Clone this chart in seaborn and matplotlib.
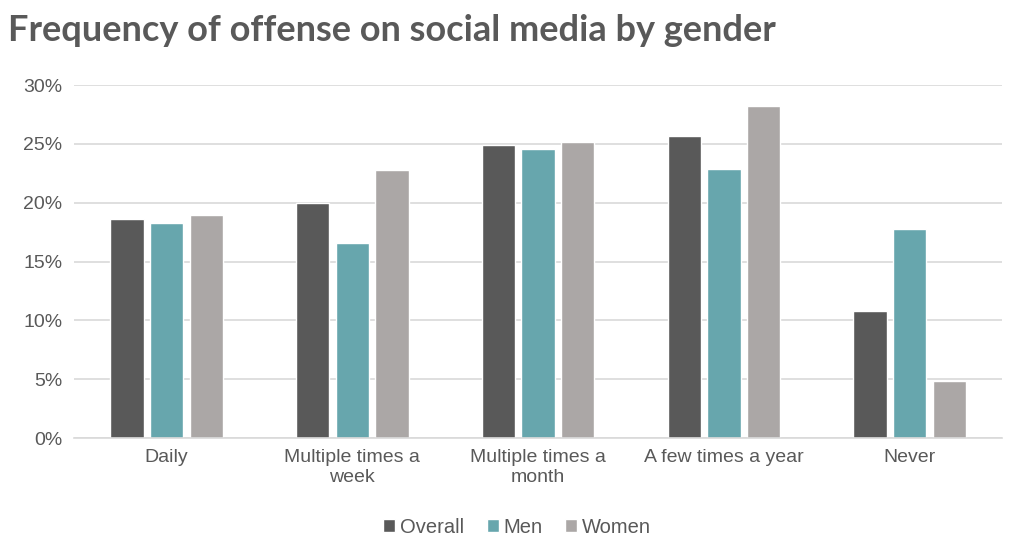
import matplotlib
matplotlib.use("Agg")
from matplotlib import pyplot as plt
from matplotlib.ticker import PercentFormatter
import pandas as pd
import seaborn as sns

categories = ["Daily", "Multiple times a\nweek", "Multiple times a\nmonth",
              "A few times a year", "Never"]
overall = [18.6, 19.95, 24.9, 25.7, 10.8]
men = [18.3, 16.6, 24.6, 22.85, 17.75]
women = [18.95, 22.8, 25.2, 28.2, 4.85]
groups = ["Overall", "Men", "Women"]
colors = ["#595959", "#67A6AD", "#ABA7A6"]

df = pd.DataFrame({
    "Frequency": categories * 3,
    "Group": [g for g in groups for _ in categories],
    "Value": overall + men + women,
})

sns.set_style("white")
plt.rcParams["font.family"] = ["Liberation Sans", "DejaVu Sans"]

fig = plt.figure(figsize=(10.24, 5.56), dpi=100)
ax = fig.add_axes([0.072, 0.212, 0.907, 0.635])

sns.barplot(data=df, x="Frequency", y="Value", hue="Group", order=categories,
            hue_order=groups, palette=colors, width=0.64, gap=0.16,
            saturation=1, ax=ax)

ax.set_ylim(0, 30)
ax.set_yticks(range(0, 31, 5))
ax.yaxis.set_major_formatter(PercentFormatter(decimals=0))
ax.yaxis.grid(True, color="#D9D9D9", linewidth=1.2)
ax.set_axisbelow(True)
for side in ["top", "right", "left"]:
    ax.spines[side].set_visible(False)
ax.spines["bottom"].set_color("#D9D9D9")
ax.spines["bottom"].set_linewidth(1.2)
ax.tick_params(axis="both", length=0, labelsize=14, colors="#595959", pad=8)
ax.set_xlabel("")
ax.set_ylabel("")

handles, labels = ax.get_legend_handles_labels()
ax.get_legend().remove()
fig.legend(handles, labels, loc="center", bbox_to_anchor=(0.505, 0.052),
           ncol=3, frameon=False, fontsize=14.5, handlelength=0.6,
           handleheight=0.6, handletextpad=0.25, columnspacing=1.1,
           labelcolor="#595959")

fig.text(0.008, 0.945, "Frequency of offense on social media by gender",
         fontsize=26, fontweight="bold", color="#595959", family="Lato",
         va="center")

fig.savefig("out.png", dpi=100, facecolor="white")
